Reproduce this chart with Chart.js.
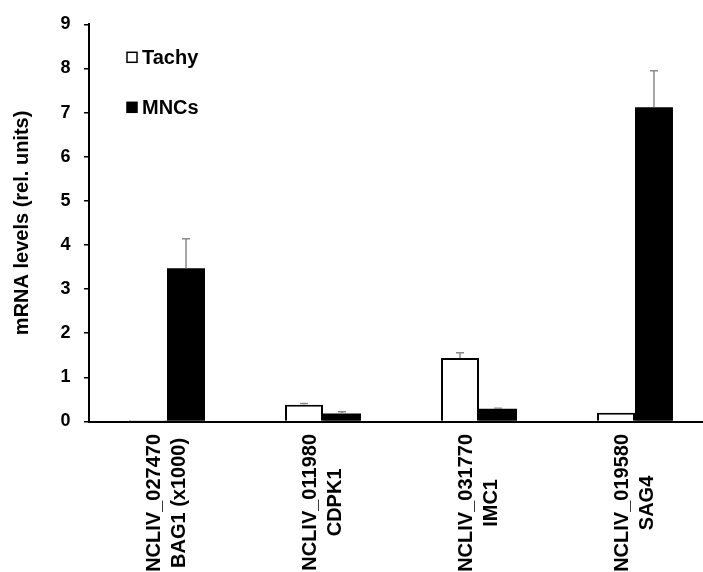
<!DOCTYPE html>
<html>
<head>
<meta charset="utf-8">
<script src="https://cdn.jsdelivr.net/npm/chart.js@4"></script>
<style>
  html, body { margin: 0; padding: 0; background: #fff; overflow: hidden; }
  #wrap { position: relative; width: 713px; height: 572px; }
</style>
</head>
<body>
<div id="wrap"><canvas id="c"></canvas></div>
<script>
// ---- data ----
const geneIds = ["NCLIV_027470", "NCLIV_011980", "NCLIV_031770", "NCLIV_019580"];
const geneNames = ["BAG1 (x1000)", "CDPK1", "IMC1", "SAG4"];
const seriesNames = ["Tachy", "MNCs"];
const tachyValues = [0.03, 0.38, 1.44, 0.20];
const tachyErrors = [0.00, 0.03, 0.12, 0.00];
const mncValues = [3.47, 0.18, 0.29, 7.12];
const mncErrors = [0.67, 0.04, 0.01, 0.83];
const yTicks = [0, 1, 2, 3, 4, 5, 6, 7, 8, 9];

const FONT = "Arial, 'Liberation Sans', sans-serif";

const labels = geneIds.map((id, i) => [id, geneNames[i]]);

const errorBars = {
  id: 'errorBars',
  afterDatasetsDraw(chart) {
    const ctx = chart.ctx;
    const y = chart.scales.y;
    ctx.save();
    ctx.strokeStyle = '#8a8a8a';
    ctx.lineWidth = 1.5;
    chart.data.datasets.forEach((ds, di) => {
      const meta = chart.getDatasetMeta(di);
      meta.data.forEach((bar, i) => {
        const err = ds.errors[i];
        if (!err) return;
        const top = y.getPixelForValue(ds.data[i] + err);
        ctx.beginPath();
        ctx.moveTo(bar.x, bar.y);
        ctx.lineTo(bar.x, top);
        ctx.moveTo(bar.x - 4, top);
        ctx.lineTo(bar.x + 4, top);
        ctx.stroke();
      });
    });
    ctx.restore();
  }
};

const customLegend = {
  id: 'customLegend',
  afterDraw(chart) {
    const ctx = chart.ctx;
    const a = chart.chartArea;
    ctx.save();
    ctx.font = 'bold 20px ' + FONT;
    ctx.textBaseline = 'middle';
    ctx.fillStyle = '#000';
    chart.data.datasets.forEach((ds, di) => {
      const cx = a.left + 38;
      const cy = a.top + 33 + di * 50;
      ctx.fillStyle = ds.backgroundColor;
      ctx.fillRect(cx, cy - 5, 10, 10);
      ctx.strokeStyle = '#000';
      ctx.lineWidth = 1.5;
      ctx.strokeRect(cx, cy - 5, 10, 10);
      ctx.fillStyle = '#000';
      ctx.textAlign = 'left';
      ctx.fillText(ds.label, cx + 15, cy + 1);
    });
    ctx.restore();
  }
};

const categoryLabels = {
  id: 'categoryLabels',
  afterDraw(chart) {
    const ctx = chart.ctx;
    const x = chart.scales.x;
    const bottom = chart.chartArea.bottom;
    ctx.save();
    ctx.font = 'bold 20px ' + FONT;
    ctx.fillStyle = '#000';
    ctx.textAlign = 'center';
    ctx.textBaseline = 'middle';
    labels.forEach((lines, i) => {
      const px = x.getPixelForValue(i);
      const w = Math.max(...lines.map(l => ctx.measureText(l).width));
      const py = bottom + 12.5 + w / 2;
      ctx.save();
      ctx.translate(px, py);
      ctx.rotate(-Math.PI / 2);
      lines.forEach((line, li) => {
        ctx.fillText(line, 0, (li - (lines.length - 1) / 2) * 25);
      });
      ctx.restore();
    });
    ctx.restore();
  }
};

new Chart(document.getElementById('c'), {
  type: 'bar',
  data: {
    labels: labels,
    datasets: [
      {
        label: seriesNames[0],
        data: tachyValues,
        errors: tachyErrors,
        backgroundColor: '#ffffff',
        borderColor: '#000000',
        borderWidth: 2,
        borderSkipped: 'start'
      },
      {
        label: seriesNames[1],
        data: mncValues,
        errors: mncErrors,
        backgroundColor: '#000000',
        borderColor: '#000000',
        borderWidth: 0
      }
    ]
  },
  options: {
    responsive: true,
    maintainAspectRatio: false,
    animation: false,
    events: [],
    layout: { padding: { top: 20, left: 0, right: 0, bottom: 0 } },
    datasets: {
      bar: { categoryPercentage: 0.487, barPercentage: 1.0 }
    },
    plugins: {
      legend: { display: false },
      tooltip: { enabled: false }
    },
    scales: {
      x: {
        grid: { display: false },
        border: { display: true, color: '#000', width: 2 },
        ticks: { display: false },
        afterFit(scale) { scale.height = 150.5; }
      },
      y: {
        min: 0,
        max: 9,
        afterBuildTicks(scale) { scale.ticks = yTicks.map(v => ({ value: v })); },
        grid: { drawOnChartArea: false, drawTicks: true, tickLength: 5, color: '#000', lineWidth: 1.5 },
        border: { display: true, color: '#000', width: 2 },
        ticks: {
          color: '#000',
          padding: 13.5,
          font: { family: FONT, size: 18, weight: 'bold' }
        },
        title: {
          display: true,
          text: 'mRNA levels (rel. units)',
          color: '#000',
          font: { family: FONT, size: 20, weight: 'bold' },
          padding: { top: 10, bottom: 0 }
        },
        afterFit(scale) { scale.width = 89; }
      }
    }
  },
  plugins: [errorBars, customLegend, categoryLabels]
});
</script>
</body>
</html>
